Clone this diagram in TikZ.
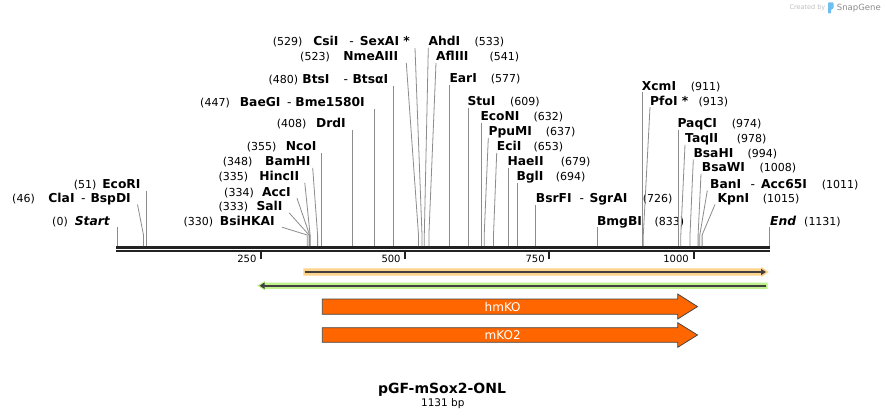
\documentclass[tikz,border=0pt]{standalone}
\usepackage{fontspec}
\setmainfont{DejaVu Sans}
\usepackage{tikz}
\usetikzlibrary{arrows.meta,positioning,calc}
\definecolor{sitegray}{RGB}{140,140,140}
\definecolor{mapblack}{RGB}{34,34,34}
\definecolor{featorange}{RGB}{255,102,0}
\definecolor{featedge}{RGB}{70,70,70}
\definecolor{hlorange}{RGB}{255,211,140}
\definecolor{hlgreen}{RGB}{190,240,140}
\definecolor{primerdark}{RGB}{64,64,64}
\definecolor{sgblue}{RGB}{110,190,240}

\begin{document}
\begin{tikzpicture}[
    x=1pt, y=-1pt,
    enz/.style={inner sep=0pt, text depth=2pt, font=\fontsize{12.3}{14}\selectfont\bfseries},
    bpnum/.style={inner sep=0pt, font=\fontsize{11}{13}\selectfont},
    site/.style={draw=sitegray, line width=0.8pt},
    ruler/.style={draw=mapblack},
    tick/.style={draw=mapblack, line width=2pt},
    ticklab/.style={inner sep=0pt, anchor=base east, font=\fontsize{10}{12}\selectfont},
    feat/.style={fill=featorange, draw=featedge, line width=0.8pt},
    featlab/.style={inner sep=0pt, text=white, font=\fontsize{12}{14}\selectfont},
    primer/.style={draw=primerdark, line width=2pt}
]
    \useasboundingbox[fill=white] (0,0) rectangle (886,420);

    % watermark
    \node[inner sep=0pt, anchor=base west, text=black!25, font=\fontsize{6.5}{8}\selectfont] (made) at (789.3,10) {Created by};
    \fill[sgblue, rounded corners=0.8pt] (828,2.5) -- (833.5,2.5) -- (833.5,8.5) -- (831,9.5) -- (831,13.5) -- (828,13.5) -- cycle;
    \node[inner sep=0pt, anchor=base west, text=black!45, font=\fontsize{8.5}{10}\selectfont] (snap) at (836.7,10.5) {SnapGene};

    % sequence ruler
    \coordinate (mapL) at (116,247.5);
    \coordinate (mapR) at (769.8,247.5);
    \draw[ruler, line width=3pt] (mapL) -- (mapR);
    \draw[ruler, line width=2pt] ([yshift=-3.5pt]mapL) -- ([yshift=-3.5pt]mapR);
    \coordinate (kink) at (0,235);

    \coordinate (t250) at (261.1,252);
    \coordinate (t500) at (405.3,252);
    \coordinate (t750) at (549.4,252);
    \coordinate (t1000) at (693.5,252);
    \draw[tick] (t250) -- ++(0,7.3);
    \draw[tick] (t500) -- ++(0,7.3);
    \draw[tick] (t750) -- ++(0,7.3);
    \draw[tick] (t1000) -- ++(0,7.3);
    \node[ticklab] (l250) at (256.6,262.3) {250};
    \node[ticklab] (l500) at (400.8,262.3) {500};
    \node[ticklab] (l750) at (544.9,262.3) {750};
    \node[ticklab] (l1000) at (689,262.3) {1000};

    % cut sites on the ruler
    \coordinate (s0) at (117,246);
    \coordinate (s46) at (143.5,246);
    \coordinate (s51) at (146.4,246);
    \coordinate (s330) at (307.2,246);
    \coordinate (s333) at (309.0,246);
    \coordinate (s334) at (309.6,246);
    \coordinate (s335) at (310.1,246);
    \coordinate (s348) at (317.6,246);
    \coordinate (s355) at (321.7,246);
    \coordinate (s408) at (352.2,246);
    \coordinate (s447) at (374.7,246);
    \coordinate (s480) at (393.7,246);
    \coordinate (s523) at (418.5,246);
    \coordinate (s529) at (422.0,246);
    \coordinate (s533) at (424.3,246);
    \coordinate (s541) at (428.9,246);
    \coordinate (s577) at (449.6,246);
    \coordinate (s609) at (468.1,246);
    \coordinate (s632) at (481.3,246);
    \coordinate (s637) at (484.2,246);
    \coordinate (s653) at (493.5,246);
    \coordinate (s679) at (508.4,246);
    \coordinate (s694) at (517.1,246);
    \coordinate (s726) at (535.5,246);
    \coordinate (s833) at (597.2,246);
    \coordinate (s911) at (642.2,246);
    \coordinate (s913) at (643.3,246);
    \coordinate (s974) at (678.5,246);
    \coordinate (s978) at (680.8,246);
    \coordinate (s994) at (690.0,246);
    \coordinate (s1008) at (698.1,246);
    \coordinate (s1011) at (699.8,246);
    \coordinate (s1015) at (702.1,246);
    \coordinate (s1131) at (769.0,246);

    % labels left of their site
    \node[enz, anchor=base east] (start) at (110,225) {\itshape Start};
    \node[bpnum, anchor=base east] (start-n) at (68,225) {(0)};
    \node[enz, anchor=base east] (cla) at (131,202.3) {ClaI\hspace{6.5pt}{\mdseries-}\hspace{5pt}BspDI};
    \node[bpnum, anchor=base east] (cla-n) at (35,202.3) {(46)};
    \node[enz, anchor=base east] (ecor) at (140.7,188.3) {EcoRI};
    \node[bpnum, anchor=base east] (ecor-n) at (96.7,188.3) {(51)};
    \node[enz, anchor=base east] (bsih) at (275,225) {BsiHKAI};
    \node[bpnum, anchor=base east] (bsih-n) at (213.3,225) {(330)};
    \node[enz, anchor=base east] (sal) at (282.7,210.7) {SalI};
    \node[bpnum, anchor=base east] (sal-n) at (248.3,210.7) {(333)};
    \node[enz, anchor=base east] (acc) at (291,196) {AccI};
    \node[bpnum, anchor=base east] (acc-n) at (254,196) {(334)};
    \node[enz, anchor=base east] (hinc) at (299.3,180.7) {HincII};
    \node[bpnum, anchor=base east] (hinc-n) at (248.3,180.7) {(335)};
    \node[enz, anchor=base east] (bam) at (310.7,165.7) {BamHI};
    \node[bpnum, anchor=base east] (bam-n) at (252.7,165.7) {(348)};
    \node[enz, anchor=base east] (nco) at (316.7,150.7) {NcoI};
    \node[bpnum, anchor=base east] (nco-n) at (276.7,150.7) {(355)};
    \node[enz, anchor=base east] (drd) at (346,127.3) {DrdI};
    \node[bpnum, anchor=base east] (drd-n) at (306.7,127.3) {(408)};
    \node[enz, anchor=base east] (bae) at (365,106.7) {BaeGI\hspace{6.5pt}{\mdseries-}\hspace{4pt}Bme1580I};
    \node[bpnum, anchor=base east] (bae-n) at (230,106.7) {(447)};
    \node[enz, anchor=base east] (bts) at (388.3,83.3) {BtsI\hspace{14pt}{\mdseries-}\hspace{4.5pt}BtsαI};
    \node[bpnum, anchor=base east] (bts-n) at (298.3,83.3) {(480)};
    \node[enz, anchor=base east] (nme) at (398.3,60.7) {NmeAIII};
    \node[bpnum, anchor=base east] (nme-n) at (330,60.7) {(523)};
    \node[enz, anchor=base east] (csi) at (410,46) {CsiI\hspace{11pt}{\mdseries-}\hspace{6pt}SexAI *};
    \node[bpnum, anchor=base east] (csi-n) at (302.7,46) {(529)};

    % labels right of their site
    \node[enz, anchor=base west] (ahd) at (428.3,45.7) {AhdI};
    \node[bpnum, anchor=base west] (ahd-n) at (474.3,45.7) {(533)};
    \node[enz, anchor=base west] (afl) at (436,60.7) {AflIII};
    \node[bpnum, anchor=base west] (afl-n) at (489.3,60.7) {(541)};
    \node[enz, anchor=base west] (ear) at (449.3,82.7) {EarI};
    \node[bpnum, anchor=base west] (ear-n) at (490.7,82.7) {(577)};
    \node[enz, anchor=base west] (stu) at (467.3,105.3) {StuI};
    \node[bpnum, anchor=base west] (stu-n) at (510,105.3) {(609)};
    \node[enz, anchor=base west] (econ) at (480.3,120.7) {EcoNI};
    \node[bpnum, anchor=base west] (econ-n) at (533.3,120.7) {(632)};
    \node[enz, anchor=base west] (ppu) at (488.3,135.7) {PpuMI};
    \node[bpnum, anchor=base west] (ppu-n) at (545.7,135.7) {(637)};
    \node[enz, anchor=base west] (eci) at (496.7,150.7) {EciI};
    \node[bpnum, anchor=base west] (eci-n) at (533.3,150.7) {(653)};
    \node[enz, anchor=base west] (hae) at (507.3,165.7) {HaeII};
    \node[bpnum, anchor=base west] (hae-n) at (560.7,165.7) {(679)};
    \node[enz, anchor=base west] (bgl) at (516.3,180.7) {BglI};
    \node[bpnum, anchor=base west] (bgl-n) at (555.7,180.7) {(694)};
    \node[enz, anchor=base west] (bsrf) at (535.7,202.7) {BsrFI\hspace{8pt}{\mdseries-}\hspace{5.5pt}SgrAI};
    \node[bpnum, anchor=base west] (bsrf-n) at (642.7,202.7) {(726)};
    \node[enz, anchor=base west] (bmg) at (596.8,225) {BmgBI};
    \node[bpnum, anchor=base west] (bmg-n) at (654.3,225) {(833)};
    \node[enz, anchor=base west] (xcm) at (641.7,90) {XcmI};
    \node[bpnum, anchor=base west] (xcm-n) at (690.7,90) {(911)};
    \node[enz, anchor=base west] (pfo) at (650,105) {PfoI *};
    \node[bpnum, anchor=base west] (pfo-n) at (698.3,105) {(913)};
    \node[enz, anchor=base west] (paq) at (677.3,127.3) {PaqCI};
    \node[bpnum, anchor=base west] (paq-n) at (731.7,127.3) {(974)};
    \node[enz, anchor=base west] (taq) at (685,142.7) {TaqII};
    \node[bpnum, anchor=base west] (taq-n) at (736.7,142.7) {(978)};
    \node[enz, anchor=base west] (bsah) at (693.3,157.3) {BsaHI};
    \node[bpnum, anchor=base west] (bsah-n) at (747.3,157.3) {(994)};
    \node[enz, anchor=base west] (bsaw) at (701.7,171.7) {BsaWI};
    \node[bpnum, anchor=base west] (bsaw-n) at (759.3,171.7) {(1008)};
    \node[enz, anchor=base west] (ban) at (710,188.3) {BanI\hspace{9.5pt}{\mdseries-}\hspace{6pt}Acc65I};
    \node[bpnum, anchor=base west] (ban-n) at (821.7,188.3) {(1011)};
    \node[enz, anchor=base west] (kpn) at (717.3,202.3) {KpnI};
    \node[bpnum, anchor=base west] (kpn-n) at (762.7,202.3) {(1015)};
    \node[enz, anchor=base west] (end) at (770,225) {\itshape End};
    \node[bpnum, anchor=base west] (end-n) at (804,225) {(1131)};

    % straight leaders
    \draw[site] (s0 |- start.south) -- (s0);
    \draw[site] (s51 |- ecor.south) -- (s51);
    \draw[site] (s355 |- nco.south) -- (s355);
    \draw[site] (s408 |- drd.south) -- (s408);
    \draw[site] (s447 |- bae.south) -- (s447);
    \draw[site] (s480 |- bts.south) -- (s480);
    \draw[site] (s577 |- ear.south) -- (s577);
    \draw[site] (s609 |- stu.south) -- (s609);
    \draw[site] (s632 |- econ.south) -- (s632);
    \draw[site] (s679 |- hae.south) -- (s679);
    \draw[site] (s694 |- bgl.south) -- (s694);
    \draw[site] (s726 |- bsrf.south) -- (s726);
    \draw[site] (s833 |- bmg.south) -- (s833);
    \draw[site] (s911 |- xcm.south) -- (s911);
    \draw[site] (s974 |- paq.south) -- (s974);
    \draw[site] (s1131 |- end.south) -- (s1131);

    % bent leaders
    \draw[site] ([xshift=6.5pt]cla.south east) -- (s46 |- kink) -- (s46);
    \draw[site] ([xshift=7pt]bsih.south east) -- (s330 |- kink) -- (s330);
    \draw[site] ([xshift=6.5pt]sal.south east) -- (s333 |- kink) -- (s333);
    \draw[site] ([xshift=6pt]acc.south east) -- (s334 |- kink) -- (s334);
    \draw[site] ([xshift=5.5pt]hinc.south east) -- (s335 |- kink) -- (s335);
    \draw[site] ([xshift=2pt]bam.south east) -- (s348 |- kink) -- (s348);
    \draw[site] ([xshift=8pt]nme.south east) -- (s523 |- kink) -- (s523);
    \draw[site] ([xshift=5pt]csi.south east) -- (s529 |- kink) -- (s529);
    \draw[site] (ahd.south west) -- (s533 |- kink) -- (s533);
    \draw[site] (afl.south west) -- (s541 |- kink) -- (s541);
    \draw[site] (ppu.south west) -- (s637 |- kink) -- (s637);
    \draw[site] (eci.south west) -- (s653 |- kink) -- (s653);
    \draw[site] (pfo.south west) -- (s913 |- kink) -- (s913);
    \draw[site] (taq.south west) -- (s978 |- kink) -- (s978);
    \draw[site] (bsah.south west) -- (s994 |- kink) -- (s994);
    \draw[site] ([xshift=-0.7pt]bsaw.south west) -- (s1008 |- kink) -- (s1008);
    \draw[site] ([xshift=-2.7pt]ban.south west) -- (s1011 |- kink) -- (s1011);
    \draw[site] ([xshift=-2.3pt]kpn.south west) -- (s1015 |- kink) -- (s1015);

    % primer-like bars
    \fill[hlorange] (303.3,268.3) -- (761,268.3) -- (761,266.8) -- (768.8,272) -- (761,277.2) -- (761,275.7) -- (303.3,275.7) -- cycle;
    \draw[primer, -{Triangle[length=5pt,width=6pt]}] (304.5,272) -- (766,272);
    \fill[hlgreen] (767.5,282.5) -- (265,282.5) -- (265,281) -- (257.2,285.7) -- (265,290.4) -- (265,288.9) -- (767.5,288.9) -- cycle;
    \draw[primer, -{Triangle[length=5pt,width=6pt]}] (766.3,285.7) -- (259.5,285.7);

    % features
    \draw[feat] (322.3,299) -- (677.7,299) -- (677.7,294) -- (697.5,306.6) -- (677.7,319) -- (677.7,314.3) -- (322.3,314.3) -- cycle;
    \node[featlab] (hmko) at (502.7,306.8) {hmKO};
    \draw[feat] (322.3,327.7) -- (677.7,327.7) -- (677.7,322.7) -- (697.5,335) -- (677.7,347.3) -- (677.7,342.3) -- (322.3,342.3) -- cycle;
    \node[featlab] (mko) at (502.7,335.2) {mKO2};

    % title
    \node[inner sep=0pt, anchor=base, font=\fontsize{14}{16}\selectfont\bfseries] (title) at (442,393.3) {pGF-mSox2-ONL};
    \node[inner sep=0pt, anchor=base, font=\fontsize{10.5}{12}\selectfont] (len) at (442.8,406.7) {1131 bp};
\end{tikzpicture}
\end{document}
